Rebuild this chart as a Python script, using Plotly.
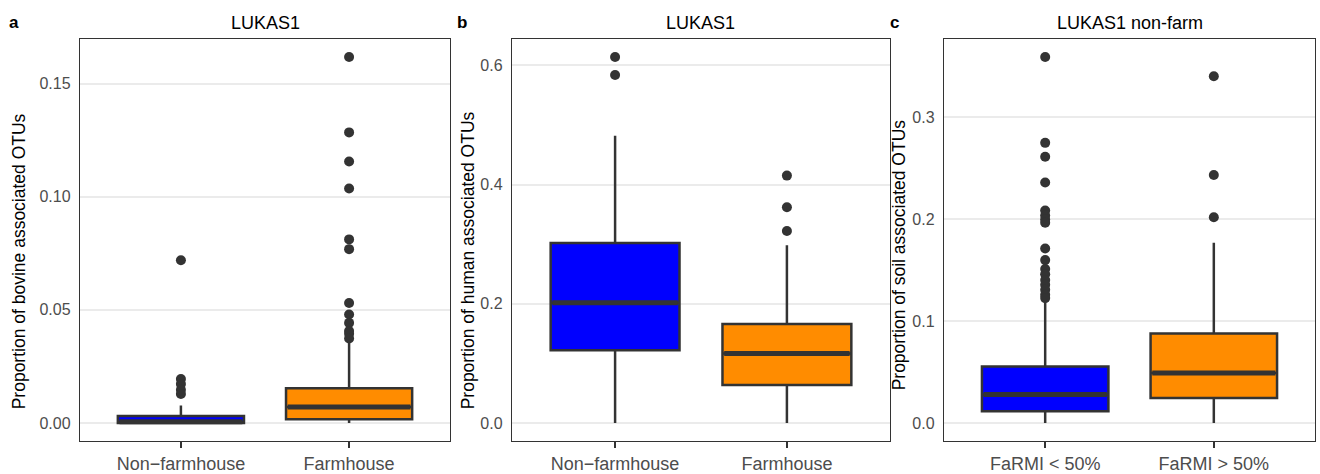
import plotly.graph_objects as go

# ---------------- data ----------------
cats_ab = ["Non\u2212farmhouse", "Farmhouse"]
cats_c = ["FaRMI < 50%", "FaRMI > 50%"]

# panel a: bovine
a_q1 = [0.0, 0.0016]
a_median = [0.0005, 0.0070]
a_q3 = [0.0031, 0.0153]
a_lower = [0.0, 0.0]
a_upper = [0.0077, 0.0355]
a_out = [
    [0.0719, 0.0194, 0.0172, 0.0146, 0.0128],
    [0.1617, 0.1284, 0.1155, 0.1036, 0.0811, 0.0768, 0.0530, 0.0479, 0.0442, 0.0406, 0.0394, 0.0373],
]

# panel b: human
b_q1 = [0.1219, 0.0637]
b_median = [0.2017, 0.1164]
b_q3 = [0.302, 0.166]
b_lower = [0.0, 0.0]
b_upper = [0.482, 0.298]
b_out = [
    [0.614, 0.584],
    [0.415, 0.362, 0.322],
]

# panel c: soil
c_q1 = [0.0114, 0.0243]
c_median = [0.0279, 0.0489]
c_q3 = [0.0554, 0.0878]
c_lower = [0.0, 0.0]
c_upper = [0.119, 0.1766]
c_out = [
    [0.3589, 0.2747, 0.2611, 0.2359, 0.2083, 0.2034, 0.1995, 0.1963, 0.171, 0.1597,
     0.151, 0.1458, 0.1402, 0.1354, 0.1305, 0.1257, 0.1224],
    [0.3401, 0.2432, 0.2018],
]

a_ticks = [0.00, 0.05, 0.10, 0.15]
b_ticks = [0.0, 0.2, 0.4, 0.6]
c_ticks = [0.0, 0.1, 0.2, 0.3]

titles = ["LUKAS1", "LUKAS1", "LUKAS1 non-farm"]
letters = ["a", "b", "c"]
ytitles = ["Proportion of bovine associated OTUs",
           "Proportion of human associated OTUs",
           "Proportion of soil associated OTUs"]

# ---------------- style ----------------
W, H = 1320, 474
FILLS = ["#0000FF", "#FF8C00"]
DARK = "#333333"
BOXW = 0.75
FONT = "Liberation Sans, Arial, Helvetica, sans-serif"

x_px = [(80, 450), (512, 890), (944, 1315)]
y_px = (39, 444)

fig = go.Figure()

panels = [
    (cats_ab, a_q1, a_median, a_q3, a_lower, a_upper, a_out, a_ticks, ".2f"),
    (cats_ab, b_q1, b_median, b_q3, b_lower, b_upper, b_out, b_ticks, ".1f"),
    (cats_c, c_q1, c_median, c_q3, c_lower, c_upper, c_out, c_ticks, ".1f"),
]

annotations = []
for p, (cats, q1, med, q3, lo, up, outs, ticks, fmt) in enumerate(panels):
    xa = "x" if p == 0 else f"x{p+1}"
    ya = "y" if p == 0 else f"y{p+1}"
    for i in range(2):
        fig.add_trace(go.Box(
            x=[i], q1=[q1[i]], median=[med[i]], q3=[q3[i]],
            lowerfence=[lo[i]], upperfence=[up[i]],
            width=BOXW, fillcolor=FILLS[i], whiskerwidth=0,
            line=dict(color=DARK, width=2.5),
            boxpoints=False, xaxis=xa, yaxis=ya, showlegend=False,
            hoverinfo="skip"))
        # thick median bar (ggplot fatten)
        fig.add_trace(go.Scatter(
            x=[i - BOXW / 2 + 0.01, i + BOXW / 2 - 0.01], y=[med[i], med[i]],
            mode="lines", line=dict(color=DARK, width=5),
            xaxis=xa, yaxis=ya, showlegend=False, hoverinfo="skip"))
        fig.add_trace(go.Scatter(
            x=[i] * len(outs[i]), y=outs[i], mode="markers",
            marker=dict(color=DARK, size=10),
            xaxis=xa, yaxis=ya, showlegend=False, hoverinfo="skip"))

    allv = [0.0] + [v for o in outs for v in o] + up
    vmax, vmin = max(allv), 0.0
    pad = (vmax - vmin) * 0.05
    x0, x1 = x_px[p]
    xk = "xaxis" if p == 0 else f"xaxis{p+1}"
    yk = "yaxis" if p == 0 else f"yaxis{p+1}"
    fig.update_layout(**{
        xk: dict(domain=[x0 / W, x1 / W], range=[-0.6, 1.6],
                 tickmode="array", tickvals=[0, 1], ticktext=cats,
                 ticks="outside", ticklen=6, tickwidth=2, tickcolor=DARK,
                 showgrid=False, zeroline=False,
                 showline=True, mirror=True, linecolor=DARK, linewidth=1.4,
                 tickfont=dict(size=18, color="#4D4D4D", family=FONT),
                 anchor=ya),
        yk: dict(domain=[1 - y_px[1] / H, 1 - y_px[0] / H],
                 range=[vmin - pad, vmax + pad],
                 tickmode="array", tickvals=ticks,
                 ticktext=[format(t, fmt) for t in ticks],
                 ticks="", showgrid=True, gridcolor="#EBEBEB", gridwidth=1.8,
                 zeroline=False, showline=True, mirror=True,
                 linecolor=DARK, linewidth=1.4, ticklabelstandoff=5,
                 tickfont=dict(size=16, color="#4D4D4D", family=FONT),
                 anchor=xa),
    })
    cx = (x0 + x1) / 2
    annotations.append(dict(text=titles[p], x=cx / W, y=1 - 23 / H,
                            xref="paper", yref="paper", showarrow=False,
                            xanchor="center", yanchor="middle",
                            font=dict(size=18, color="black", family=FONT)))

letter_x = [14, 462, 895]
ytitle_x = [19, 468, 899]
ytitle_y = [263, 262, 257]
for p in range(3):
    annotations.append(dict(text=f"<b>{letters[p]}</b>", x=letter_x[p] / W, y=1 - 23 / H,
                            xref="paper", yref="paper", showarrow=False,
                            xanchor="center", yanchor="middle",
                            font=dict(size=17, color="black", family=FONT)))
    annotations.append(dict(text=ytitles[p], x=ytitle_x[p] / W, y=1 - ytitle_y[p] / H,
                            xref="paper", yref="paper", showarrow=False,
                            textangle=-90, xanchor="center", yanchor="middle",
                            font=dict(size=17.5, color="black", family=FONT)))

fig.update_layout(
    width=W, height=H, margin=dict(l=0, r=0, t=0, b=0),
    paper_bgcolor="white", plot_bgcolor="white",
    annotations=annotations, showlegend=False,
    font=dict(family=FONT),
)

fig.write_html("out.html")
